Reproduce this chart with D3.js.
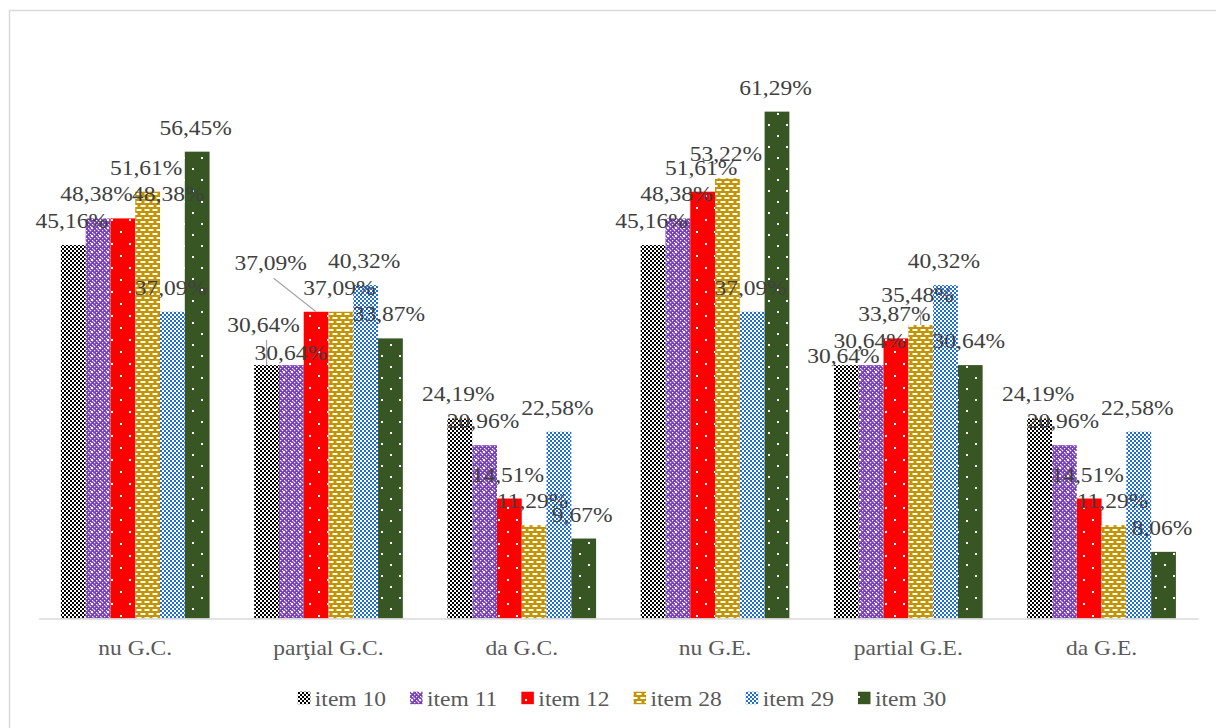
<!DOCTYPE html>
<html>
<head>
<meta charset="utf-8">
<script src="https://cdn.jsdelivr.net/npm/d3@7/dist/d3.min.js"></script>
<style>
  html, body { margin: 0; padding: 0; background: #ffffff; }
  svg { display: block; }
</style>
</head>
<body>
<svg id="chart" width="1216" height="728"></svg>
<script>
// Categories (groups along the x axis)
const categories = ["nu G.C.", "parţial G.C.", "da G.C.", "nu G.E.", "partial G.E.", "da G.E."];

// Series names shown in the legend
const seriesNames = ["item 10", "item 11", "item 12", "item 28", "item 29", "item 30"];

// Percentages per series, one value per category
const item10 = [45.16, 30.64, 24.19, 45.16, 30.64, 24.19];
const item11 = [48.38, 30.64, 20.96, 48.38, 30.64, 20.96];
const item12 = [48.38, 37.09, 14.51, 51.61, 33.87, 14.51];
const item28 = [51.61, 37.09, 11.29, 53.22, 35.48, 11.29];
const item29 = [37.09, 40.32, 22.58, 37.09, 40.32, 22.58];
const item30 = [56.45, 33.87, 9.67, 61.29, 30.64, 8.06];

const seriesValues = [item10, item11, item12, item28, item29, item30];

// Hand-placed data labels: [category, series, dx, dy, leader line]
const labelMoves = [
  [0, 2, 47, 0, false],
  [1, 0, -1.5, -16, true],
  [1, 1, 1, 12, false],
  [1, 2, -44, -24.5, true],
  [4, 0, -1.4, 15, false],
  [4, 3, -1.7, -6, true]
];

const FONT = "'Liberation Serif', 'Times New Roman', serif";
const svg = d3.select("#chart");
const plot = { left: 38.6, right: 1198.2, top: 39.6, bottom: 618.5 };
const TEXT_SX = 1.12; // horizontal text stretch

// Outer chart frame
svg.append("rect")
  .attr("x", 9.5).attr("y", 10.5)
  .attr("width", 1230).attr("height", 740)
  .attr("fill", "#ffffff")
  .attr("stroke", "#d9d9d9").attr("stroke-width", 1.5);

// ---------- fill patterns ----------
const defs = svg.append("defs");

function pattern(id, w, h, bg) {
  const p = defs.append("pattern")
    .attr("id", id).attr("patternUnits", "userSpaceOnUse")
    .attr("width", w).attr("height", h);
  p.append("rect").attr("width", w).attr("height", h).attr("fill", bg);
  return p;
}
function sq(p, x, y, w, h, c) {
  p.append("rect").attr("x", x).attr("y", y).attr("width", w).attr("height", h).attr("fill", c);
}

// item 10: black / white small checkerboard
let p = pattern("pat0", 4, 4, "#000000");
sq(p, 0, 0, 2, 2, "#ffffff"); sq(p, 2, 2, 2, 2, "#ffffff");

// item 11: purple with white grid dots
p = pattern("pat1", 8, 8, "#7a3fb8");
for (let i = 0; i < 8; i += 2) for (let j = 0; j < 8; j += 2) {
  if ((i + j) % 4 === 0) sq(p, i, j, 1.2, 1.2, "#ffffff");
}
sq(p, 3, 3, 2, 2, "#ffffff");
sq(p, 1, 5, 1.3, 1.3, "#c9b3e6");
sq(p, 5, 1, 1.3, 1.3, "#c9b3e6");

// item 12: red with sparse white dots
p = pattern("pat2", 18, 24, "#ff0000");
sq(p, 3, 3, 2, 2, "#ffffff"); sq(p, 12, 15, 2, 2, "#ffffff");

// item 28: gold with white dashes
p = pattern("pat3", 8, 8, "#c39400");
sq(p, 0.5, 1, 5, 2, "#ffffff");
sq(p, 4.5, 5, 5, 2, "#ffffff");
sq(p, -3.5, 5, 5, 2, "#ffffff");

// item 29: blue / white checkerboard
p = pattern("pat4", 4, 4, "#1f6fd0");
sq(p, 0, 0, 2, 2, "#ffffff"); sq(p, 2, 2, 2, 2, "#ffffff");

// item 30: dark green with sparse white dots
p = pattern("pat5", 18, 22, "#375623");
sq(p, 3, 3, 2, 2, "#ffffff"); sq(p, 12, 14, 2, 2, "#ffffff");

// ---------- scales ----------
const pad = 44.6 / 193.27;
const x0 = d3.scaleBand()
  .domain(categories)
  .range([plot.left, plot.right])
  .paddingInner(pad)
  .paddingOuter(pad / 2);

const x1 = d3.scaleBand()
  .domain(d3.range(seriesNames.length))
  .range([0, x0.bandwidth()])
  .padding(0);

const y = d3.scaleLinear().domain([0, 70]).range([plot.bottom, plot.top]);

// ---------- bars ----------
const barData = [];
categories.forEach((c, ci) => {
  seriesValues.forEach((vals, si) => {
    barData.push({ ci, si, cat: c, value: vals[ci] });
  });
});

svg.append("g").selectAll("rect")
  .data(barData)
  .join("rect")
  .attr("x", d => x0(d.cat) + x1(d.si))
  .attr("y", d => y(d.value))
  .attr("width", x1.bandwidth())
  .attr("height", d => y(0) - y(d.value))
  .attr("fill", d => `url(#pat${d.si})`);

// ---------- x axis ----------
const axis = d3.axisBottom(x0).tickSize(0).tickFormat("");
const axisG = svg.append("g")
  .attr("transform", `translate(0,${plot.bottom})`)
  .call(axis);
axisG.select(".domain")
  .attr("stroke", "#d9d9d9").attr("stroke-width", 1.5);

svg.append("g").selectAll("g")
  .data(categories)
  .join("g")
  .attr("transform", c => `translate(${x0(c) + x0.bandwidth() / 2},655) scale(${TEXT_SX},1)`)
  .append("text")
  .attr("text-anchor", "middle")
  .attr("font-family", FONT)
  .attr("font-size", 21)
  .attr("fill", "#595959")
  .text(c => c);

// ---------- data labels ----------
const fmt = v => v.toFixed(2).replace(".", ",") + "%";
const labelG = svg.append("g");
const leaderG = svg.append("g");

barData.forEach(d => {
  const bx = x0(d.cat) + x1(d.si) + x1.bandwidth() / 2;
  const top = y(d.value);
  let lx = bx - 1.5, ly = top - 17;
  const mv = labelMoves.find(m => m[0] === d.ci && m[1] === d.si);
  if (mv) {
    lx += mv[2]; ly += mv[3];
    if (mv[4]) {
      const sx = lx + Math.max(-3, Math.min(3, bx - lx));
      leaderG.append("line")
        .attr("x1", sx).attr("y1", ly + 8)
        .attr("x2", bx).attr("y2", top)
        .attr("stroke", "#a6a6a6").attr("stroke-width", 1.2);
    }
  }
  labelG.append("g")
    .attr("transform", `translate(${lx},${ly}) scale(${TEXT_SX},1)`)
    .append("text")
    .attr("text-anchor", "middle")
    .attr("font-family", FONT)
    .attr("font-size", 21)
    .attr("fill", "#404040")
    .text(fmt(d.value));
});

// ---------- legend ----------
const legend = svg.append("g");
const entries = legend.selectAll("g")
  .data(seriesNames)
  .join("g");
entries.append("rect")
  .attr("width", 12.5).attr("height", 12.5)
  .attr("y", 691.7)
  .attr("fill", (d, i) => `url(#pat${i})`);
entries.append("g")
  .attr("class", "lt")
  .append("text")
  .attr("font-family", FONT)
  .attr("font-size", 21)
  .attr("fill", "#595959")
  .text(d => d);

let cursor = 0;
const gapAfter = 24;
const layout = [];
entries.each(function () {
  const tw = d3.select(this).select("text").node().getComputedTextLength() * TEXT_SX;
  layout.push({ start: cursor, tw });
  cursor += 12.5 + 4.5 + tw + gapAfter;
});
const total = cursor - gapAfter;
const legendLeft = 622 - total / 2;
entries.each(function (d, i) {
  const g = d3.select(this);
  const s = legendLeft + layout[i].start;
  g.select("rect").attr("x", s);
  g.select("g.lt").attr("transform", `translate(${s + 17},706) scale(${TEXT_SX},1)`);
});
</script>
</body>
</html>
